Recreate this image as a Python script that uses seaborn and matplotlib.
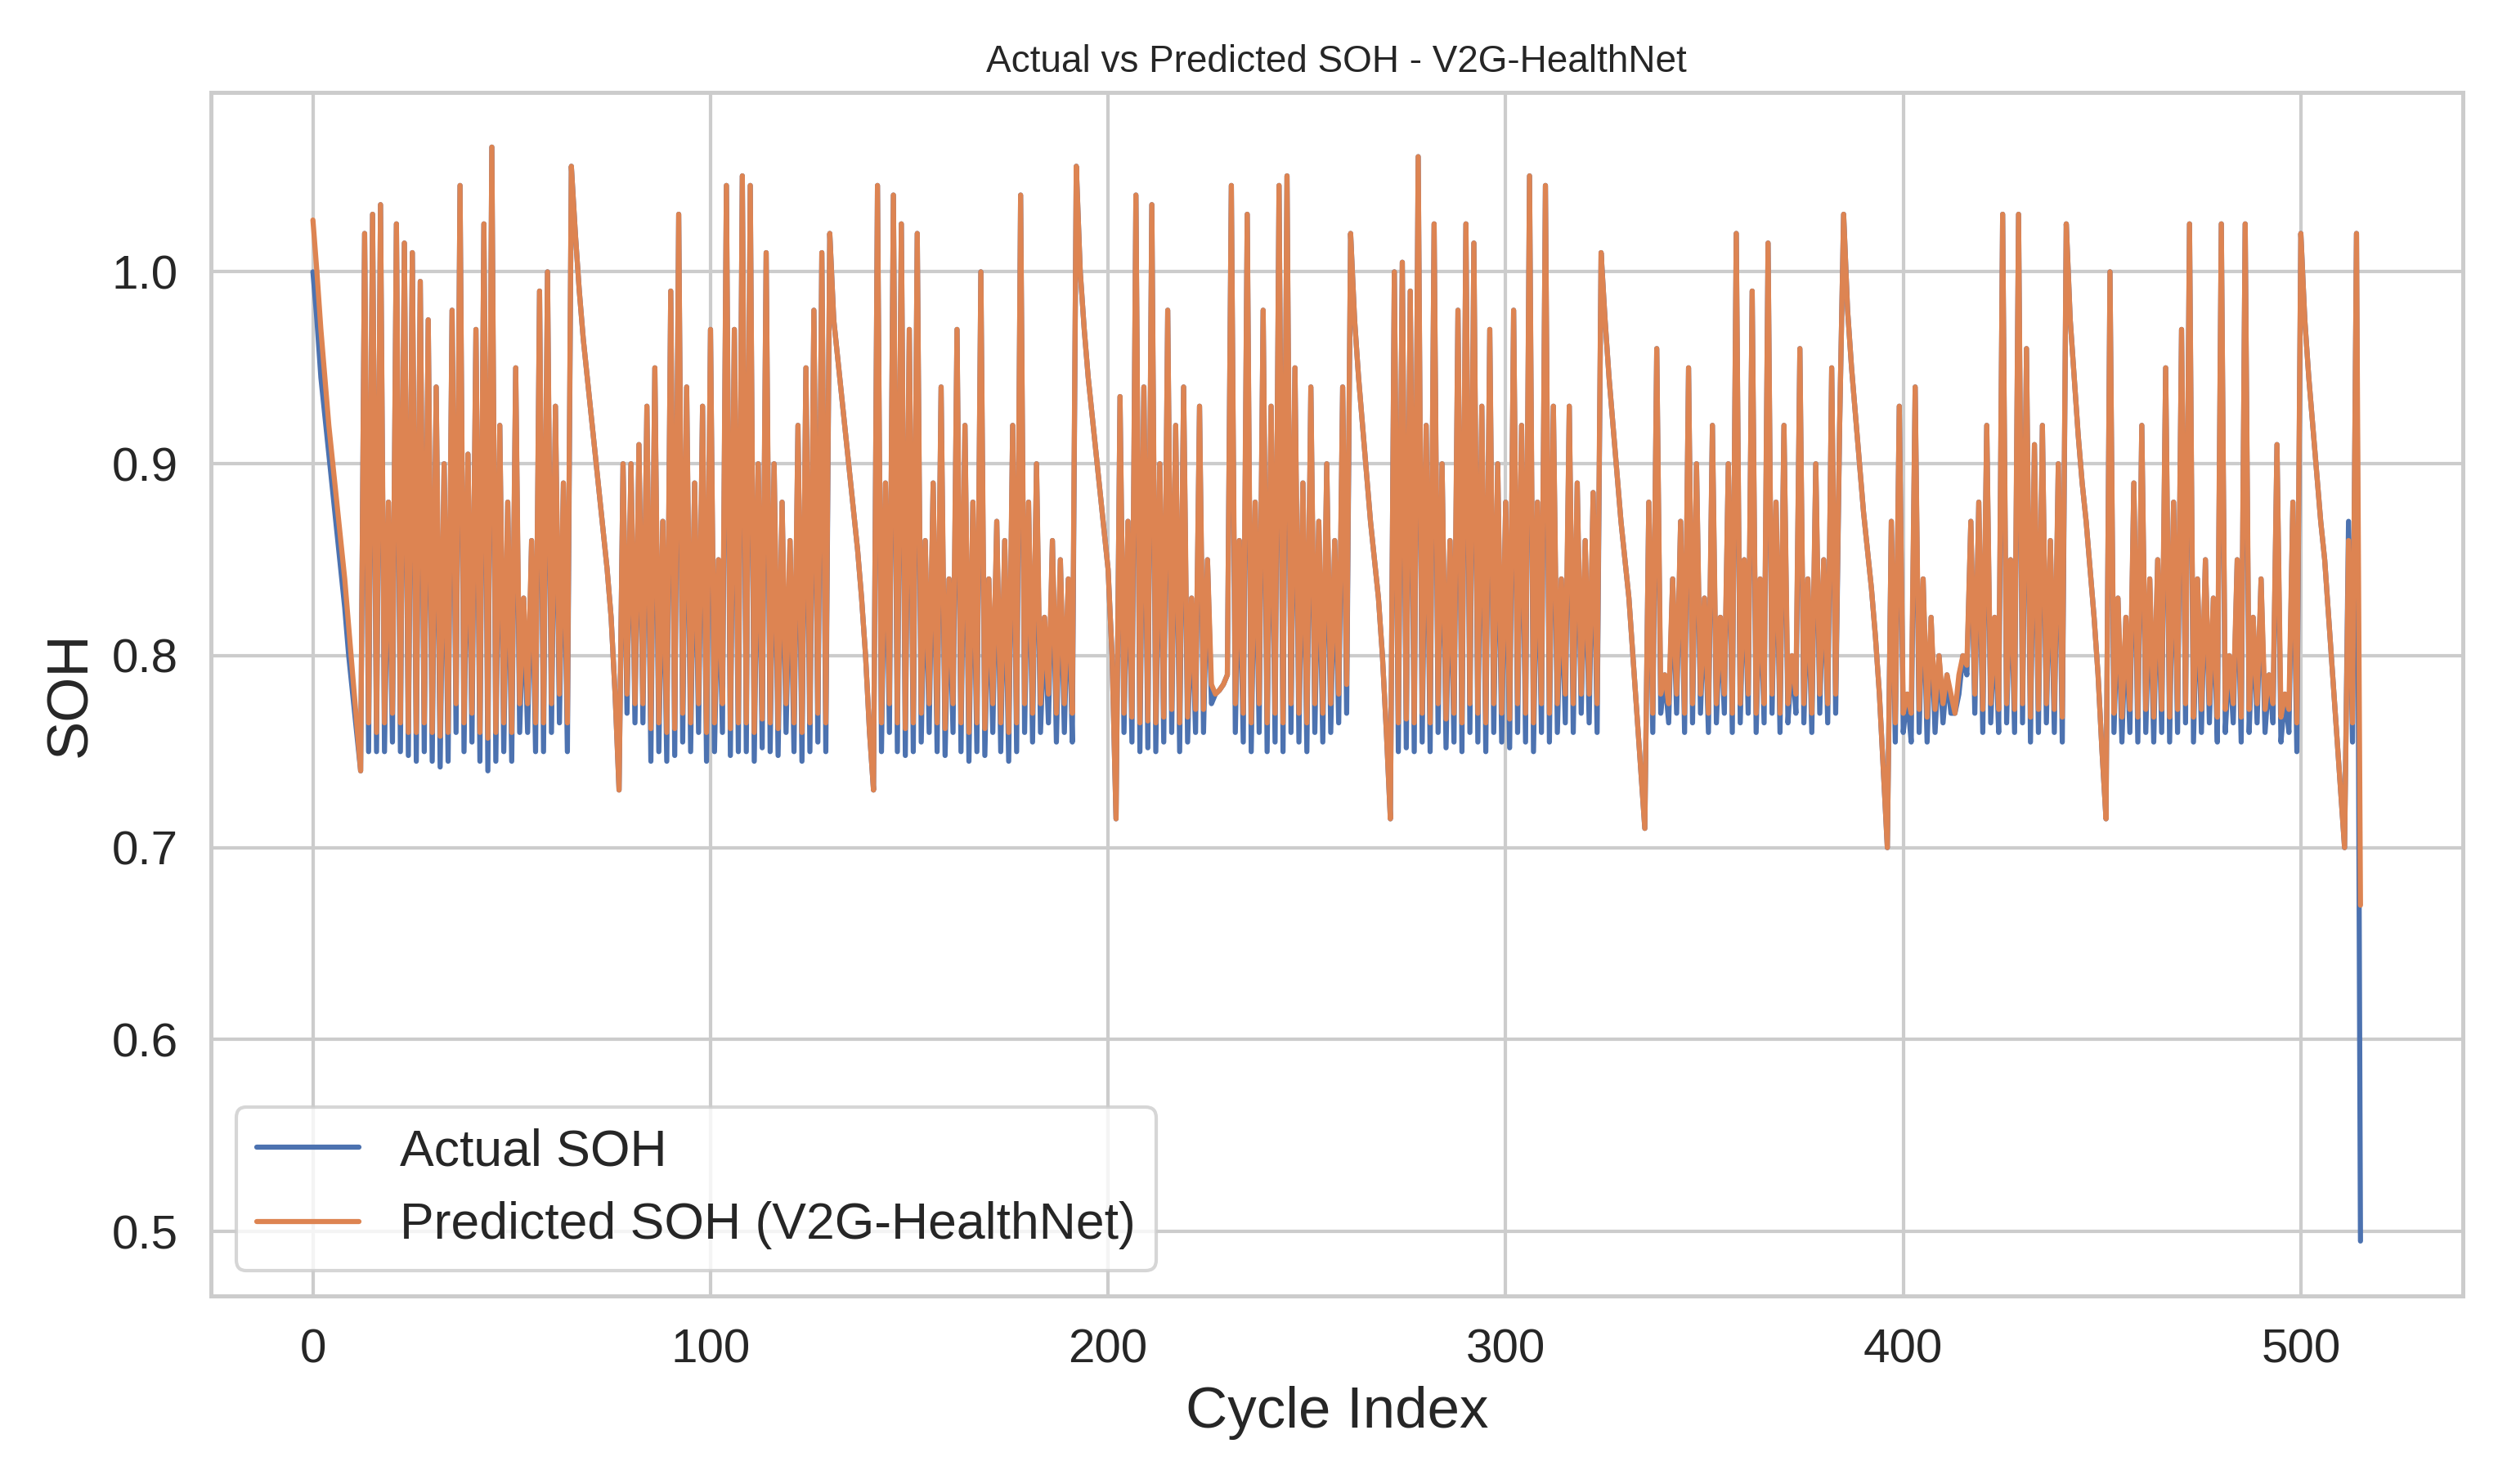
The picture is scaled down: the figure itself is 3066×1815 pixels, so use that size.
import matplotlib
matplotlib.use("Agg")
import matplotlib.pyplot as plt
import seaborn as sns
import pandas as pd
from itertools import zip_longest

# ramps (smooth declines) and oscillating blocks in order
ramp0_act = [1.000, .975, .945, .925, .905, .885, .865, .845, .825, .80, .78, .76, .74]
ramp0_pred = [1.027, 1.0, .97, .945, .92, .90, .88, .86, .84, .815, .79, .765, .74]
osc1_peaks = [1.02, 1.03, 1.035, .88, 1.025, 1.015, 1.01, .995, .975, .94, .90, .98, 1.045,
              .905, .97, 1.025, 1.065, .92, .88, .95, .83, .86, .99, 1.0, .93, .89]
osc1_act = [.75, .75, .75, .755, .75, .748, .745, .75, .745, .742, .745, .76, .75,
            .755, .745, .74, .745, .75, .745, .76, .76, .75, .75, .76, .765, .75]
osc1_pred = [.765, .76, .765, .77, .765, .76, .76, .765, .76, .758, .76, .775, .765,
             .77, .76, .757, .76, .765, .76, .775, .775, .765, .765, .775, .78, .765]
ramp1 = [1.055, 1.02, .99, .965, .945, .925, .905, .885, .865, .845, .82, .78, .73]
osc2_peaks = [.90, .90, .91, .93, .95, .87, .99, 1.03, .94, .89, .93, .97, .85,
              1.045, .97, 1.05, 1.045, .90, 1.01, .90, .88, .86, .92, .95, .98, 1.01]
osc2_act = [.77, .765, .765, .745, .75, .745, .748, .755, .75, .76, .745, .75, .76,
            .748, .75, .75, .745, .752, .75, .748, .76, .75, .745, .75, .755, .75]
osc2_pred = [.78, .775, .775, .762, .765, .76, .762, .77, .765, .775, .76, .765, .775,
             .762, .765, .765, .76, .767, .765, .762, .775, .765, .76, .765, .77, .765]
ramp2 = [1.02, .975, .955, .935, .915, .895, .875, .855, .83, .80, .76, .73]
osc3_peaks = [1.045, .89, 1.04, 1.025, .97, 1.02, .86, .89, .94, .84, .97, .92, .88,
              1.0, .84, .87, .86, .92, 1.04, .88, .90, .82, .86, .85, .84]
osc3_act = [.75, .76, .75, .748, .75, .755, .76, .75, .748, .76, .75, .745, .75,
            .748, .76, .75, .745, .75, .76, .755, .76, .765, .755, .76, .755]
osc3_pred = [.765, .775, .765, .762, .765, .77, .775, .765, .762, .775, .765, .76, .765,
             .762, .775, .765, .76, .765, .775, .77, .775, .78, .77, .775, .77]
ramp3 = [1.055, 1.0, .97, .945, .925, .905, .885, .865, .845, .80, .715]
osc4_peaks = [.935, .87, 1.04, .94, 1.035, .90, .98, .92, .94, .83, .93, .85]
osc4_act = [.76, .755, .75, .752, .75, .755, .76, .75, .755, .76, .76, .775]
osc4_pred = [.77, .768, .765, .766, .765, .768, .772, .765, .768, .772, .772, .785]
flat4 = [.78, .782, .785, .79]
osc5_peaks = [1.045, .86, 1.03, .88, .98, .93, 1.045, 1.05, .95, .89, .94, .87, .90, .86, .94]
osc5_act = [.76, .755, .75, .76, .75, .755, .75, .76, .755, .75, .76, .755, .76, .765, .77]
osc5_pred = [.775, .77, .765, .775, .765, .77, .765, .775, .77, .765, .775, .77, .775, .78, .785]
ramp5 = [1.02, .975, .945, .92, .895, .87, .85, .83, .80, .76, .715]
osc6_peaks = [1.0, 1.005, .99, 1.06, .92, 1.025, .90, .86, .98, 1.025, 1.015, .93, .97,
              .90, .88, .98, .92, 1.05, .88, 1.045, .93, .84, .93, .89, .86, .885]
osc6_act = [.75, .752, .75, .755, .75, .76, .752, .755, .75, .76, .755, .75, .76,
            .755, .752, .76, .755, .75, .76, .755, .76, .765, .76, .77, .765, .76]
osc6_pred = [.765, .767, .765, .77, .765, .775, .767, .77, .765, .775, .77, .765, .775,
             .77, .767, .775, .77, .765, .775, .77, .775, .78, .775, .78, .78, .775]
ramp6 = [1.01, .975, .945, .92, .895, .87, .85, .83, .80, .77, .74, .71]
osc7_peaks = [.88, .96, .79, .84, .87, .95, .90, .83, .92, .82, .90, 1.02, .85, .99, .84,
              1.015, .88, .92, .80, .96, .84, .90, .85, .95, .92]
osc7_act = [.76, .77, .765, .77, .76, .765, .77, .76, .765, .77, .76, .765, .77, .76,
            .765, .77, .76, .765, .77, .765, .76, .77, .765, .77]
osc7_pred = [.77, .78, .775, .78, .77, .775, .78, .77, .775, .78, .77, .775, .78, .77,
             .775, .78, .77, .775, .78, .775, .77, .78, .775, .78]
ramp7 = [1.03, .98, .95, .925, .90, .875, .855, .835, .81, .78, .74, .70]
osc8_peaks = [.87, .93, .78, .94, .84, .82, .80, .79, .77, .80, .87, .88, .92, .82, 1.03,
              .85, 1.03, .96, .91, .92, .86, .90]
osc8_act = [.755, .76, .755, .76, .755, .76, .765, .77, .78, .79, .77, .76, .765, .76,
            .765, .76, .765, .755, .76, .765, .76, .755]
osc8_pred = [.765, .77, .77, .772, .768, .772, .775, .78, .79, .795, .78, .772, .775, .772,
             .775, .772, .775, .768, .772, .775, .772, .768]
ramp8 = [1.025, .975, .945, .915, .89, .87, .845, .82, .79, .75, .715]
osc9_peaks = [1.0, .83, .82, .89, .92, .84, .85, .95, .88, .97, 1.025, .84, .85, .83,
              1.025, .80, .85, 1.025, .82, .84, .79, .91, .78, .88]
osc9_act = [.76, .755, .76, .755, .76, .755, .76, .755, .76, .765, .755, .76, .765, .755,
            .76, .765, .755, .76, .765, .76, .765, .755, .76, .75]
osc9_pred = [.77, .768, .772, .768, .772, .768, .772, .768, .772, .775, .768, .772, .775,
             .768, .772, .775, .768, .772, .775, .772, .775, .768, .772, .765]
ramp9 = [1.02, .975, .945, .92, .895, .87, .85, .82, .79, .76, .73, .70]
tail_act = [.87, .755, 1.02, .495]
tail_pred = [.86, .765, 1.02, .67]


def weave(peaks, troughs):
    out = []
    for p, t in zip_longest(peaks, troughs):
        out.append(p)
        if t is not None:
            out.append(t)
    return out


def build(r0, o1, o2, o3, o4, o5, o6, o7, o8, o9, tail):
    return (r0 + weave(osc1_peaks, o1) + ramp1 + weave(osc2_peaks, o2) + ramp2
            + weave(osc3_peaks, o3) + ramp3 + weave(osc4_peaks, o4) + flat4
            + weave(osc5_peaks, o5) + ramp5 + weave(osc6_peaks, o6) + ramp6
            + weave(osc7_peaks, o7) + ramp7 + weave(osc8_peaks, o8) + ramp8
            + weave(osc9_peaks, o9) + ramp9 + tail)


actual = build(ramp0_act, osc1_act, osc2_act, osc3_act, osc4_act, osc5_act, osc6_act,
               osc7_act, osc8_act, osc9_act, tail_act)
predicted = build(ramp0_pred, osc1_pred, osc2_pred, osc3_pred, osc4_pred, osc5_pred,
                  osc6_pred, osc7_pred, osc8_pred, osc9_pred, tail_pred)
cycles = list(range(len(actual)))

df = pd.DataFrame({"Cycle Index": cycles * 2,
                   "SOH": actual + predicted,
                   "series": ["Actual SOH"] * len(actual)
                   + ["Predicted SOH (V2G-HealthNet)"] * len(predicted)})

sns.set_theme(style="whitegrid", font="Liberation Sans")
fig, ax = plt.subplots(figsize=(10.22, 6.05), dpi=300)
pal = sns.color_palette("deep")
sns.lineplot(data=df, x="Cycle Index", y="SOH", hue="series",
             palette=[pal[0], pal[1]], linewidth=1.5, ax=ax)

ax.set_title("Actual vs Predicted SOH - V2G-HealthNet", fontsize=11)
ax.set_xlabel("Cycle Index", fontsize=17)
ax.set_ylabel("SOH", fontsize=17)
ax.tick_params(labelsize=14)
ax.set_yticks([0.5, 0.6, 0.7, 0.8, 0.9, 1.0])
for s in ax.spines.values():
    s.set_color("#cccccc")
    s.set_linewidth(1.2)
ax.legend(title=None, fontsize=15, loc="lower left")
plt.tight_layout()
plt.savefig("out.png", dpi=300)
